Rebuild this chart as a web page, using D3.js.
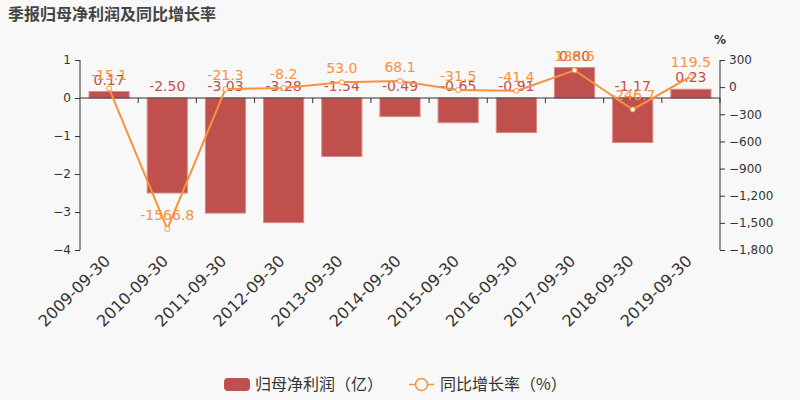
<!DOCTYPE html>
<html><head><meta charset="utf-8">
<script src="https://cdn.jsdelivr.net/npm/d3@7"></script>
<style>body{margin:0;background:#f8f8f8;}svg{display:block;font-family:"DejaVu Sans","Noto Sans CJK SC",sans-serif;}</style>
</head><body><svg id="c" width="800" height="400"></svg>
<script>
const categories = ["2009-09-30","2010-09-30","2011-09-30","2012-09-30","2013-09-30","2014-09-30","2015-09-30","2016-09-30","2017-09-30","2018-09-30","2019-09-30"];
const profit = [0.17,-2.50,-3.03,-3.28,-1.54,-0.49,-0.65,-0.91,0.80,-1.17,0.23];
const growth = [-15.1,-1566.8,-21.3,-8.2,53.0,68.1,-31.5,-41.4,186.6,-246.7,119.5];
const leftTicks = [1,0,-1,-2,-3,-4];
const rightTicks = [300,0,-300,-600,-900,-1200,-1500,-1800];

const svg = d3.select("#c");
const L = 80, R = 720, T = 60, B = 250;
const barColor = "#c0504d", lineColor = "#f7923e", txt = "#333";

svg.append("rect").attr("width",800).attr("height",400).attr("fill","#f8f8f8");
svg.append("text").attr("x",8).attr("y",20).attr("font-size",16).attr("font-weight","bold")
  .attr("fill","#444").attr("font-family","Noto Sans CJK SC").text("季报归母净利润及同比增长率");

const x = d3.scaleBand().domain(categories).range([L,R]).paddingInner(0.31).paddingOuter(0.155);
const y = d3.scaleLinear().domain([-4,1]).range([B,T]);
const y2 = d3.scaleLinear().domain([-1800,300]).range([B,T]);

// left axis
const la = svg.append("g").attr("transform",`translate(${L},0)`)
  .call(d3.axisLeft(y).tickValues(leftTicks).tickSize(5).tickPadding(4).tickFormat(d3.format("d")));
la.selectAll("text").attr("font-size",12).attr("fill",txt).attr("font-family","DejaVu Sans");
la.selectAll("line,path").attr("stroke",txt);
la.select("path").attr("d",`M0,${T}V${B}`);

// right axis
const ra = svg.append("g").attr("transform",`translate(${R},0)`)
  .call(d3.axisRight(y2).tickValues(rightTicks).tickSize(5).tickPadding(4).tickFormat(d3.format(",")));
ra.selectAll("text").attr("font-size",12).attr("fill",txt).attr("font-family","DejaVu Sans");
ra.selectAll("line,path").attr("stroke",txt);
ra.select("path").attr("d",`M0,${T}V${B}`);
svg.append("text").attr("x",714).attr("y",44).attr("font-size",12).attr("font-weight","bold").attr("fill",txt).text("%");

// bars
svg.append("g").selectAll("rect").data(profit).join("rect")
  .attr("x",(d,i)=>x(categories[i]))
  .attr("width",x.bandwidth())
  .attr("y",d=>y(Math.max(0,d)))
  .attr("height",d=>Math.abs(y(d)-y(0)))
  .attr("fill",barColor).attr("stroke","#d98a88").attr("stroke-width",1);

// x axis at zero
const step = x.step();
const xa = svg.append("g");
xa.append("line").attr("x1",L).attr("x2",R).attr("y1",y(0)).attr("y2",y(0)).attr("stroke",txt);
xa.selectAll("line.t").data(categories).join("line").attr("class","t")
  .attr("x1",d=>x(d)+x.bandwidth()/2+step/2).attr("x2",d=>x(d)+x.bandwidth()/2+step/2)
  .attr("y1",y(0)).attr("y2",y(0)+5).attr("stroke",txt);
svg.append("g").selectAll("text").data(categories).join("text")
  .attr("transform",d=>`translate(${x(d)+x.bandwidth()/2+2},${B+12}) rotate(-45)`)
  .attr("text-anchor","end").attr("font-size",16).attr("fill",txt).text(d=>d);

// bar labels
svg.append("g").selectAll("text").data(profit).join("text")
  .attr("x",(d,i)=>x(categories[i])+x.bandwidth()/2)
  .attr("y",d=>y(Math.max(0,d))-7)
  .attr("text-anchor","middle").attr("font-size",14).attr("fill",barColor)
  .text(d=>d.toFixed(2));

// line
const cx = i=>x(categories[i])+x.bandwidth()/2;
svg.append("path").datum(growth)
  .attr("d",d3.line().x((d,i)=>cx(i)).y(d=>y2(d)))
  .attr("fill","none").attr("stroke",lineColor).attr("stroke-width",2);
svg.append("g").selectAll("circle").data(growth).join("circle")
  .attr("cx",(d,i)=>cx(i)).attr("cy",d=>y2(d)).attr("r",2.5)
  .attr("fill","#fff").attr("stroke",lineColor).attr("stroke-width",1);
svg.append("g").selectAll("text").data(growth).join("text")
  .attr("x",(d,i)=>cx(i)).attr("y",d=>y2(d)-9)
  .attr("text-anchor","middle").attr("font-size",14).attr("fill",lineColor)
  .text(d=>d.toFixed(1));

// legend
const lg = svg.append("g").attr("font-family","Noto Sans CJK SC").attr("font-size",16).attr("fill",txt);
lg.append("rect").attr("x",224).attr("y",378).attr("width",26).attr("height",13).attr("rx",4).attr("fill",barColor);
lg.append("text").attr("x",255).attr("y",390).attr("fill",txt).text("归母净利润（亿）");
lg.append("line").attr("x1",409).attr("x2",434).attr("y1",384.5).attr("y2",384.5).attr("stroke",lineColor).attr("stroke-width",1.5);
lg.append("circle").attr("cx",421.5).attr("cy",384.5).attr("r",6).attr("fill","#f8f8f8").attr("stroke",lineColor).attr("stroke-width",1.5);
lg.append("text").attr("x",440).attr("y",390).attr("fill",txt).text("同比增长率（%）");
</script></body></html>
